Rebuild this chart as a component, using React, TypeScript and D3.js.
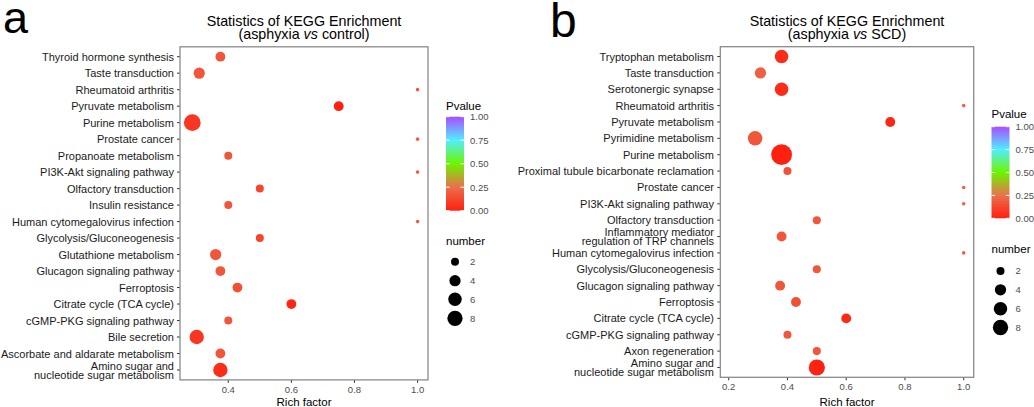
import React from "react";
import * as d3 from "d3";

const FONT = "'Liberation Sans', Arial, Helvetica, sans-serif";

// ---------- Panel a data ----------
const catsA = [
  "Thyroid hormone synthesis",
  "Taste transduction",
  "Rheumatoid arthritis",
  "Pyruvate metabolism",
  "Purine metabolism",
  "Prostate cancer",
  "Propanoate metabolism",
  "PI3K-Akt signaling pathway",
  "Olfactory transduction",
  "Insulin resistance",
  "Human cytomegalovirus infection",
  "Glycolysis/Gluconeogenesis",
  "Glutathione metabolism",
  "Glucagon signaling pathway",
  "Ferroptosis",
  "Citrate cycle (TCA cycle)",
  "cGMP-PKG signaling pathway",
  "Bile secretion",
  "Ascorbate and aldarate metabolism",
  "Amino sugar and\nnucleotide sugar metabolism",
];
const richA = [0.375, 0.308, 1.0, 0.75, 0.286, 1.0, 0.4, 1.0, 0.5, 0.4, 1.0, 0.5, 0.36, 0.375, 0.429, 0.6, 0.4, 0.3, 0.375, 0.375];
const numA = [3, 4, 1, 3, 10, 1, 2, 1, 2, 2, 1, 2, 4, 3, 3, 3, 2, 7, 3, 7];
const pA = [0.17, 0.17, 0.19, 0.01, 0.07, 0.19, 0.17, 0.19, 0.12, 0.17, 0.19, 0.12, 0.17, 0.17, 0.15, 0.025, 0.17, 0.07, 0.17, 0.04];
const ticksA = [0.4, 0.6, 0.8, 1.0];

// ---------- Panel b data ----------
const catsB = [
  "Tryptophan metabolism",
  "Taste transduction",
  "Serotonergic synapse",
  "Rheumatoid arthritis",
  "Pyruvate metabolism",
  "Pyrimidine metabolism",
  "Purine metabolism",
  "Proximal tubule bicarbonate reclamation",
  "Prostate cancer",
  "PI3K-Akt signaling pathway",
  "Olfactory transduction",
  "Inflammatory mediator\nregulation of TRP channels",
  "Human cytomegalovirus infection",
  "Glycolysis/Gluconeogenesis",
  "Glucagon signaling pathway",
  "Ferroptosis",
  "Citrate cycle (TCA cycle)",
  "cGMP-PKG signaling pathway",
  "Axon regeneration",
  "Amino sugar and\nnucleotide sugar metabolism",
];
const richB = [0.38, 0.308, 0.38, 1.0, 0.75, 0.29, 0.38, 0.4, 1.0, 1.0, 0.5, 0.38, 1.0, 0.5, 0.375, 0.429, 0.6, 0.4, 0.5, 0.5];
const numB = [6, 4, 6, 1, 3, 7, 16, 2, 1, 1, 2, 3, 1, 2, 3, 3, 3, 2, 2, 9];
const pB = [0.04, 0.2, 0.04, 0.2, 0.02, 0.17, 0.005, 0.15, 0.2, 0.2, 0.17, 0.17, 0.2, 0.17, 0.17, 0.15, 0.03, 0.17, 0.17, 0.01];
const ticksB = [0.2, 0.4, 0.6, 0.8, 1.0];

const legendBreaks = [2, 4, 6, 8];
const pBreaks = [0, 0.25, 0.5, 0.75, 1];

const colorScale = d3
  .scaleLinear<string>()
  .domain([0, 0.25, 0.5, 0.75, 1])
  .range(["#ff1f0f", "#ea704e", "#6cf500", "#52eeff", "#a84cff"])
  .interpolate(d3.interpolateRgb);

type PanelProps = {
  id: string;
  letter: string;
  letterX: number;
  letterY: number;
  letterSize: number;
  cats: string[];
  rich: number[];
  num: number[];
  pv: number[];
  ticks: number[];
  left: number;
  right: number;
  top: number;
  bottom: number;
  xDomain: [number, number];
  labelEnd: number;
  titleRight: string;
  sizeMax: number;
  sizeC: number;
  legX: number;
  barTop: number;
  barBottom: number;
  pTitleY: number;
  nTitleY: number;
  circleYs: number[];
};

function Panel(p: PanelProps) {
  const x = d3.scaleLinear().domain(p.xDomain).range([p.left, p.right]);
  const y = d3.scalePoint<string>().domain(p.cats).range([p.top, p.bottom]).padding(0.6);
  const sq = d3.scaleSqrt().domain([0, p.sizeMax - 1]).range([0, p.sizeC]);
  const rad = (n: number) => 1.8 + sq(n - 1);
  const fmt = d3.format(".1f");
  const cx = (p.left + p.right) / 2;
  const barW = 18;
  const barY = d3.scaleLinear().domain([0, 1]).range([p.barBottom, p.barTop]);
  const stops = d3.range(0, 1.0001, 0.05);
  const order = d3.range(p.cats.length);

  return (
    <g>
      <defs>
        <linearGradient id={`grad-${p.id}`} x1="0" y1="1" x2="0" y2="0">
          {stops.map((s) => (
            <stop key={s} offset={s} stopColor={colorScale(s)} />
          ))}
        </linearGradient>
      </defs>
      <text x={p.letterX} y={p.letterY} fontSize={p.letterSize} fontFamily={FONT} fill="#000">
        {p.letter}
      </text>
      <text x={cx} y={26} textAnchor="middle" fontSize={14.3} fontFamily={FONT} fill="#000">
        Statistics of KEGG Enrichment
      </text>
      <text x={cx} y={38.5} textAnchor="middle" fontSize={14.3} fontFamily={FONT} fill="#000">
        (asphyxia <tspan fontStyle="italic">vs</tspan> {p.titleRight})
      </text>

      {/* y axis labels and ticks */}
      {p.cats.map((c) => {
        const yy = y(c)!;
        const lines = c.split("\n");
        return (
          <g key={c}>
            <line x1={p.left - 3} x2={p.left} y1={yy} y2={yy} stroke="#333" strokeWidth={1} />
            {lines.length === 1 ? (
              <text x={p.labelEnd} y={yy + 4} textAnchor="end" fontSize={11} fontFamily={FONT} fill="#1a1a1a">
                {c}
              </text>
            ) : (
              <text textAnchor="end" fontSize={11} fontFamily={FONT} fill="#1a1a1a">
                <tspan x={p.labelEnd} y={yy - 0.3}>{lines[0]}</tspan>
                <tspan x={p.labelEnd} y={yy + 8.7}>{lines[1]}</tspan>
              </text>
            )}
          </g>
        );
      })}

      {/* x axis */}
      {p.ticks.map((t) => (
        <g key={t}>
          <line x1={x(t)} x2={x(t)} y1={p.bottom} y2={p.bottom + 3} stroke="#333" strokeWidth={1} />
          <text x={x(t)} y={p.bottom + 13} textAnchor="middle" fontSize={9.5} fontFamily={FONT} fill="#4d4d4d">
            {fmt(t)}
          </text>
        </g>
      ))}
      <text x={cx} y={405.5} textAnchor="middle" fontSize={11.5} fontFamily={FONT} fill="#000">
        Rich factor
      </text>

      {/* points */}
      {order.map((i) => (
        <circle key={i} cx={x(p.rich[i])} cy={y(p.cats[i])!} r={rad(p.num[i])} fill={colorScale(p.pv[i])} />
      ))}

      {/* panel border */}
      <rect x={p.left} y={p.top} width={p.right - p.left} height={p.bottom - p.top} fill="none" stroke="#8a8a8a" strokeWidth={1.3} />

      {/* colour legend */}
      <text x={p.legX} y={p.pTitleY} fontSize={11.5} fontFamily={FONT} fill="#000">
        Pvalue
      </text>
      <rect x={p.legX} y={p.barTop} width={barW} height={p.barBottom - p.barTop} fill={`url(#grad-${p.id})`} />
      {pBreaks.map((b) => (
        <g key={b}>
          <line x1={p.legX} x2={p.legX + 3.6} y1={barY(b)} y2={barY(b)} stroke="#fff" strokeWidth={1} />
          <line x1={p.legX + barW - 3.6} x2={p.legX + barW} y1={barY(b)} y2={barY(b)} stroke="#fff" strokeWidth={1} />
          <text x={p.legX + 24} y={barY(b) + 3.4} fontSize={9.5} fontFamily={FONT} fill="#4d4d4d">
            {d3.format(".2f")(b)}
          </text>
        </g>
      ))}

      {/* size legend */}
      <text x={p.legX} y={p.nTitleY} fontSize={11.5} fontFamily={FONT} fill="#000">
        number
      </text>
      {legendBreaks.map((b, i) => (
        <g key={b}>
          <circle cx={p.legX + 9} cy={p.circleYs[i]} r={rad(b)} fill="#000" />
          <text x={p.legX + 24} y={p.circleYs[i] + 3.4} fontSize={9.5} fontFamily={FONT} fill="#4d4d4d">
            {b}
          </text>
        </g>
      ))}
    </g>
  );
}

export default function App() {
  return (
    <svg
      width={1034}
      height={407}
      viewBox="0 0 1034 407"
      style={{ position: "absolute", left: 0, top: 0, background: "#fff" }}
    >
      <rect x={0} y={0} width={1034} height={407} fill="#fff" />
      <Panel
        id="a"
        letter="a"
        letterX={3}
        letterY={33}
        letterSize={45}
        cats={catsA}
        rich={richA}
        num={numA}
        pv={pA}
        ticks={ticksA}
        left={180}
        right={428}
        top={46.8}
        bottom={379.9}
        xDomain={[0.247, 1.033]}
        labelEnd={174}
        titleRight="control"
        sizeMax={10}
        sizeC={6.6}
        legX={446}
        barTop={116.7}
        barBottom={210.7}
        pTitleY={110}
        nTitleY={245}
        circleYs={[261.7, 280.7, 299.3, 318.3]}
      />
      <Panel
        id="b"
        letter="b"
        letterX={550}
        letterY={37}
        letterSize={48}
        cats={catsB}
        rich={richB}
        num={numB}
        pv={pB}
        ticks={ticksB}
        left={720.3}
        right={973.7}
        top={46.7}
        bottom={377.3}
        xDomain={[0.1714, 1.034]}
        labelEnd={714}
        titleRight="SCD"
        sizeMax={16}
        sizeC={8.6}
        legX={991.5}
        barTop={126.7}
        barBottom={218.3}
        pTitleY={118}
        nTitleY={253}
        circleYs={[271, 289.8, 308.8, 327.5]}
      />
    </svg>
  );
}
